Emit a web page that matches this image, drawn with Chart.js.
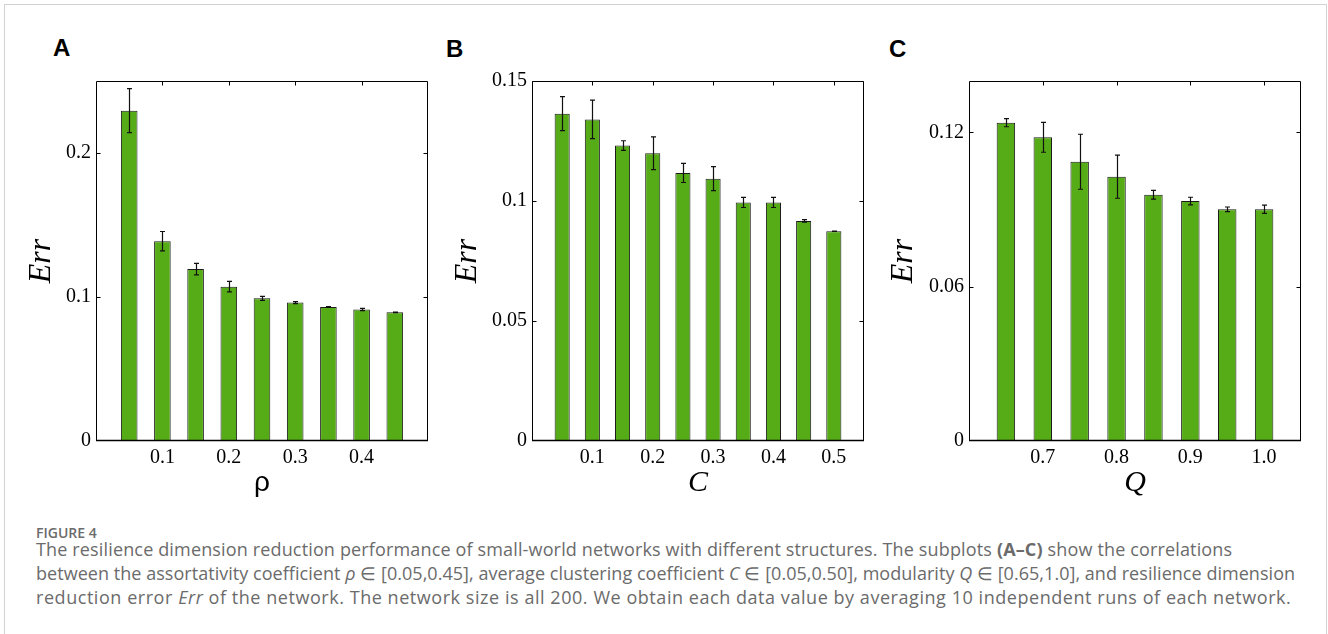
<!DOCTYPE html>
<html><head><meta charset="utf-8">
<script src="https://cdn.jsdelivr.net/npm/chart.js@4.4.1/dist/chart.umd.min.js"></script>
<style>
html,body{margin:0;padding:0;background:#fff;width:1328px;height:634px;overflow:hidden;}
#frame{position:absolute;left:4px;top:4px;width:1323px;height:700px;border:1px solid #d2d2d2;box-sizing:border-box;}
.pl{position:absolute;font:bold 24px "Liberation Sans",Arial,sans-serif;line-height:24px;color:#000;}
canvas{position:absolute;}
#fig{position:absolute;left:36px;top:523px;font:600 14px "Open Sans",sans-serif;line-height:20px;color:#6b6b6b;}
#cap{position:absolute;left:36px;top:537px;font:18px "Open Sans",sans-serif;line-height:24px;color:#6b6b6b;white-space:nowrap;}
#cap span{display:block;}
#cap b{font-weight:700;}
</style></head>
<body>
<div id="frame"></div>
<div class="pl" style="left:53px;top:36px;">A</div>
<div class="pl" style="left:446px;top:37px;">B</div>
<div class="pl" style="left:889px;top:37px;">C</div>
<canvas id="cA"></canvas>
<canvas id="cB"></canvas>
<canvas id="cC"></canvas>
<div id="fig">FIGURE 4</div>
<div id="cap"><span style="letter-spacing:0.15px">The resilience dimension reduction performance of small-world networks with different structures. The subplots <b>(A–C)</b> show the correlations</span><span style="letter-spacing:0.04px">between the assortativity coefficient <i>ρ</i> ∈ [0.05,0.45], average clustering coefficient <i>C</i> ∈ [0.05,0.50], modularity <i>Q</i> ∈ [0.65,1.0], and resilience dimension</span><span style="letter-spacing:0.55px">reduction error <i>Err</i> of the network. The network size is all 200. We obtain each data value by averaging 10 independent runs of each network.</span></div>
<script>
// ---- data ----
const rhoA = [0.05, 0.10, 0.15, 0.20, 0.25, 0.30, 0.35, 0.40, 0.45];
const errA = [0.2294, 0.1388, 0.1194, 0.1072, 0.0991, 0.0961, 0.0931, 0.0913, 0.0894];
const sdA  = [0.0153, 0.0067, 0.0040, 0.0037, 0.0014, 0.0007, 0.0003, 0.0008, 0.0002];

const cB   = [0.05, 0.10, 0.15, 0.20, 0.25, 0.30, 0.35, 0.40, 0.45, 0.50];
const errB = [0.1364, 0.1340, 0.1231, 0.1199, 0.1117, 0.1093, 0.0994, 0.0994, 0.0917, 0.0874];
const sdB  = [0.0071, 0.0080, 0.0020, 0.0068, 0.0040, 0.0050, 0.0021, 0.0021, 0.0005, 0.0001];

const qC   = [0.65, 0.70, 0.75, 0.80, 0.85, 0.90, 0.95, 1.00];
const errC = [0.1238, 0.1181, 0.1086, 0.1028, 0.0958, 0.0933, 0.0901, 0.0901];
const sdC  = [0.0016, 0.0058, 0.0107, 0.0084, 0.0017, 0.0015, 0.0009, 0.0016];

const xTicksA = [0.1, 0.2, 0.3, 0.4];        const xLabelsA = ['0.1', '0.2', '0.3', '0.4'];
const yTicksA = [0, 0.1, 0.2];               const yLabelsA = ['0', '0.1', '0.2'];
const xTicksB = [0.1, 0.2, 0.3, 0.4, 0.5];   const xLabelsB = ['0.1', '0.2', '0.3', '0.4', '0.5'];
const yTicksB = [0, 0.05, 0.1, 0.15];        const yLabelsB = ['0', '0.05', '0.1', '0.15'];
const xTicksC = [0.7, 0.8, 0.9, 1.0];        const xLabelsC = ['0.7', '0.8', '0.9', '1.0'];
const yTicksC = [0, 0.06, 0.12];             const yLabelsC = ['0', '0.06', '0.12'];

const GREEN = 'rgb(86,172,22)';
const SERIF = '"Liberation Serif","Times New Roman",serif';

const framePlugin = {
  id: 'frame',
  afterDraw(chart) {
    const {ctx, chartArea: a, scales: {x, y}} = chart;
    const L = Math.round(a.left) + 0.5, R = Math.round(a.right) - 0.5;
    const T = Math.round(a.top) + 0.5, B = Math.round(a.bottom) - 0.5;
    ctx.save();
    ctx.strokeStyle = '#000';
    ctx.lineWidth = 1;
    ctx.beginPath();
    ctx.moveTo(L, B); ctx.lineTo(L, T); ctx.lineTo(R, T); ctx.lineTo(R, B);
    y.ticks.forEach(t => {
      if (t.value === y.min) return;
      const py = Math.round(y.getPixelForValue(t.value)) + 0.5;
      ctx.moveTo(L, py); ctx.lineTo(L + 4, py);
      ctx.moveTo(R, py); ctx.lineTo(R - 4, py);
    });
    x.ticks.forEach(t => {
      const px = Math.round(x.getPixelForValue(t.value)) + 0.5;
      ctx.moveTo(px, T); ctx.lineTo(px, T + 4);
    });
    ctx.stroke();
    ctx.lineWidth = 1.6;
    ctx.beginPath();
    ctx.moveTo(L - 0.5, B); ctx.lineTo(R + 0.5, B);
    ctx.stroke();
    ctx.restore();
  }
};

const errPlugin = {
  id: 'errbars',
  afterDatasetsDraw(chart, args, opts) {
    const {ctx, scales: {x, y}} = chart;
    const ds = chart.data.datasets[0];
    ctx.save();
    ctx.strokeStyle = '#111';
    ctx.lineWidth = 1.2;
    ds.data.forEach((p, i) => {
      const e = opts.sd[i];
      const px = Math.round(x.getPixelForValue(p.x)) + 0.5;
      const y1 = y.getPixelForValue(p.y + e), y2 = y.getPixelForValue(p.y - e);
      ctx.beginPath();
      ctx.moveTo(px, y1); ctx.lineTo(px, y2);
      ctx.moveTo(px - 2.5, y1); ctx.lineTo(px + 2.5, y1);
      ctx.moveTo(px - 2.5, y2); ctx.lineTo(px + 2.5, y2);
      ctx.stroke();
    });
    ctx.restore();
  }
};

function makePanel(id, g, xs, ys, sd, xr, yr, xt, xtl, yt, ytl, xTitle, xFont, xPad, yPad) {
  const c = document.getElementById(id);
  c.width = g.w; c.height = g.h;
  c.style.left = g.x + 'px'; c.style.top = g.y + 'px';
  c.style.width = g.w + 'px'; c.style.height = g.h + 'px';
  return new Chart(c, {
    type: 'bar',
    data: {
      datasets: [{
        data: xs.map((v, i) => ({x: v, y: ys[i]})),
        backgroundColor: GREEN,
        borderColor: '#1c1c1c',
        borderWidth: 1,
        barPercentage: 0.5,
        categoryPercentage: 1
      }]
    },
    options: {
      responsive: false,
      animation: false,
      devicePixelRatio: 1,
      layout: {padding: {left: 0, top: g.padTop, right: g.padRight, bottom: 0}},
      plugins: {legend: {display: false}, tooltip: {enabled: false}, errbars: {sd: sd}},
      scales: {
        x: {
          type: 'linear', min: xr[0], max: xr[1], offset: false,
          grid: {display: false, drawTicks: false}, border: {display: false},
          afterBuildTicks: s => { s.ticks = xt.map(v => ({value: v})); },
          afterFit: s => { s.height = g.xh; s.paddingLeft = 0; s.paddingRight = 0; },
          ticks: {padding: 5, color: '#000', font: {family: SERIF, size: 20}, autoSkip: false, maxRotation: 0,
                  callback: (v, i) => xtl[i]},
          title: {display: true, text: xTitle, color: '#000', font: xFont, padding: {top: 0, bottom: xPad}}
        },
        y: {
          type: 'linear', min: yr[0], max: yr[1],
          grid: {display: false, drawTicks: false}, border: {display: false},
          afterBuildTicks: s => { s.ticks = yt.map(v => ({value: v})); },
          afterFit: s => { s.width = g.yw; s.paddingTop = 0; s.paddingBottom = 0; },
          ticks: {padding: 5, color: '#000', font: {family: SERIF, size: 20}, autoSkip: false,
                  callback: (v, i) => ytl[i]},
          title: {display: true, text: 'Err', color: '#000', font: {family: SERIF, size: 32, style: 'italic'},
                  padding: {top: yPad, bottom: 0}}
        }
      }
    },
    plugins: [errPlugin, framePlugin]
  });
}

makePanel('cA', {x: 10, y: 70, w: 430, h: 440, padTop: 11, padRight: 12, yw: 86, xh: 69},
  rhoA, errA, sdA, [0, 0.5], [0, 0.25], xTicksA, xLabelsA, yTicksA, yLabelsA,
  'ρ', {family: '"Liberation Sans",Arial,sans-serif', size: 28}, 10, 12.8);
makePanel('cB', {x: 440, y: 70, w: 440, h: 440, padTop: 11, padRight: 16, yw: 92, xh: 69},
  cB, errB, sdB, [0, 0.55], [0, 0.15], xTicksB, xLabelsB, yTicksB, yLabelsB,
  'C', {family: SERIF, size: 30, style: 'italic'}, 9, 8.3);
makePanel('cC', {x: 880, y: 70, w: 440, h: 440, padTop: 11, padRight: 19, yw: 89, xh: 69},
  qC, errC, sdC, [0.6, 1.05], [0, 0.14], xTicksC, xLabelsC, yTicksC, yLabelsC,
  'Q', {family: SERIF, size: 30, style: 'italic'}, 9, 4.8);
</script>
</body></html>
